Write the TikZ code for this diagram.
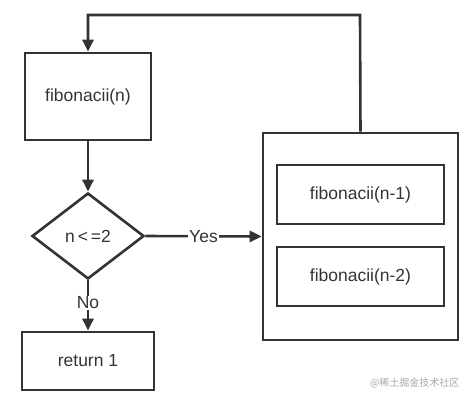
\documentclass[tikz,border=0pt]{standalone}
\usepackage{fontspec}
\setmainfont{Liberation Sans}
\newfontfamily\cjkfont{Noto Sans CJK SC}
\usetikzlibrary{arrows.meta,shapes.geometric}
\definecolor{ink}{HTML}{333333}
\definecolor{wm}{HTML}{A8A8A8}
\begin{document}
\begin{tikzpicture}[x=1pt,y=-1pt,
  every node/.style={text=ink,font=\fontsize{17.5}{20}\selectfont},
  boxst/.style={draw=ink,line width=2.6pt,rectangle,inner sep=0pt},
  conn/.style={draw=ink,line width=2.6pt},
  arr/.style={conn,-{Triangle[length=12pt,width=11pt]}},
  lbl/.style={fill=white,inner sep=1pt}]
\useasboundingbox (0,0) rectangle (475,400);
\node[boxst,minimum width=126pt,minimum height=87pt] (fib) at (88,96.5) {fibonacii(n)};
\node[boxst,diamond,minimum width=112pt,minimum height=86pt,aspect=1.3] (dec) at (88,236) {n{\,}<{\,}=2};
\node[boxst,minimum width=132pt,minimum height=58pt] (ret) at (88,361) {return 1};
\node[boxst,minimum width=195pt,minimum height=207pt] (big) at (360.5,236.5) {};
\node[boxst,minimum width=167pt,minimum height=59pt] (f1) at (360.5,194.5) {fibonacii(n-1)};
\node[boxst,minimum width=167pt,minimum height=59pt] (f2) at (360.5,276.5) {fibonacii(n-2)};
\node[text=wm,font=\cjkfont\fontsize{10}{12}\selectfont,anchor=east] (wmk) at (463,383) {@稀土掘金技术社区};
\draw[arr] (fib.south) -- (dec.north);
\draw[arr] (dec.east) -- node[lbl]{Yes} (big.west);
\draw[arr] (dec.south) -- node[lbl,pos=0.45]{No} (ret.north);
\coordinate (c1) at (360,15);
\coordinate (c2) at (88,15);
\draw[arr] (big.north) -- (c1) -- (c2) -- (fib.north);
\end{tikzpicture}
\end{document}
